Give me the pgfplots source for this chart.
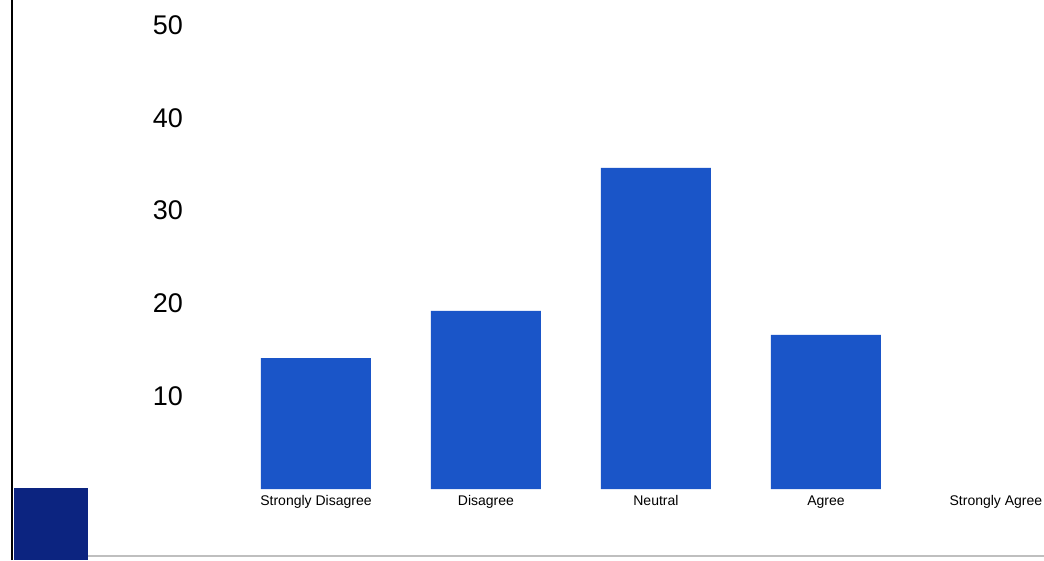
\documentclass[border=0pt]{standalone}
\usepackage{pgfplots}
\pgfplotsset{compat=1.18}
\usepackage{fontspec}
\setmainfont{Liberation Sans}
\definecolor{barblue}{RGB}{26,85,200}
\definecolor{navy}{RGB}{12,36,128}
\begin{document}
\begin{tikzpicture}[x=1pt,y=1pt]
\useasboundingbox (0,0) rectangle (1044,560);
\fill[white] (0,0) rectangle (1044,560);
\begin{axis}[
  at={(168pt,71pt)}, anchor=south west,
  scale only axis,
  width=875.5pt, height=464pt,
  xmin=-0.8706, xmax=4.28,
  ymin=0, ymax=50,
  axis line style={draw=none},
  major tick length=0pt,
  xtick={0,1,2,3,4},
  xticklabels={Strongly Disagree,Disagree,Neutral,Agree,Strongly Agree},
  ytick={10,20,30,40,50},
  /pgf/number format/assume math mode=true,
  yticklabel style={anchor=center, font=\fontsize{27}{30}\selectfont},
  xticklabel style={anchor=base, yshift=-16pt, inner sep=0pt, font=\fontsize{14}{16}\selectfont},
  clip=false,
]
\addplot[ybar, bar width=110pt, fill=barblue, draw=none] coordinates {
  (0,14.1) (1,19.2) (2,34.6) (3,16.6)
};
\end{axis}
\draw[black, line width=2.5pt] (12,0) -- (12,560);
\fill[navy] (13.5,0) rectangle (88,72);
\draw[black!25, line width=2pt] (88,4) -- (1044,4);
\end{tikzpicture}
\end{document}
